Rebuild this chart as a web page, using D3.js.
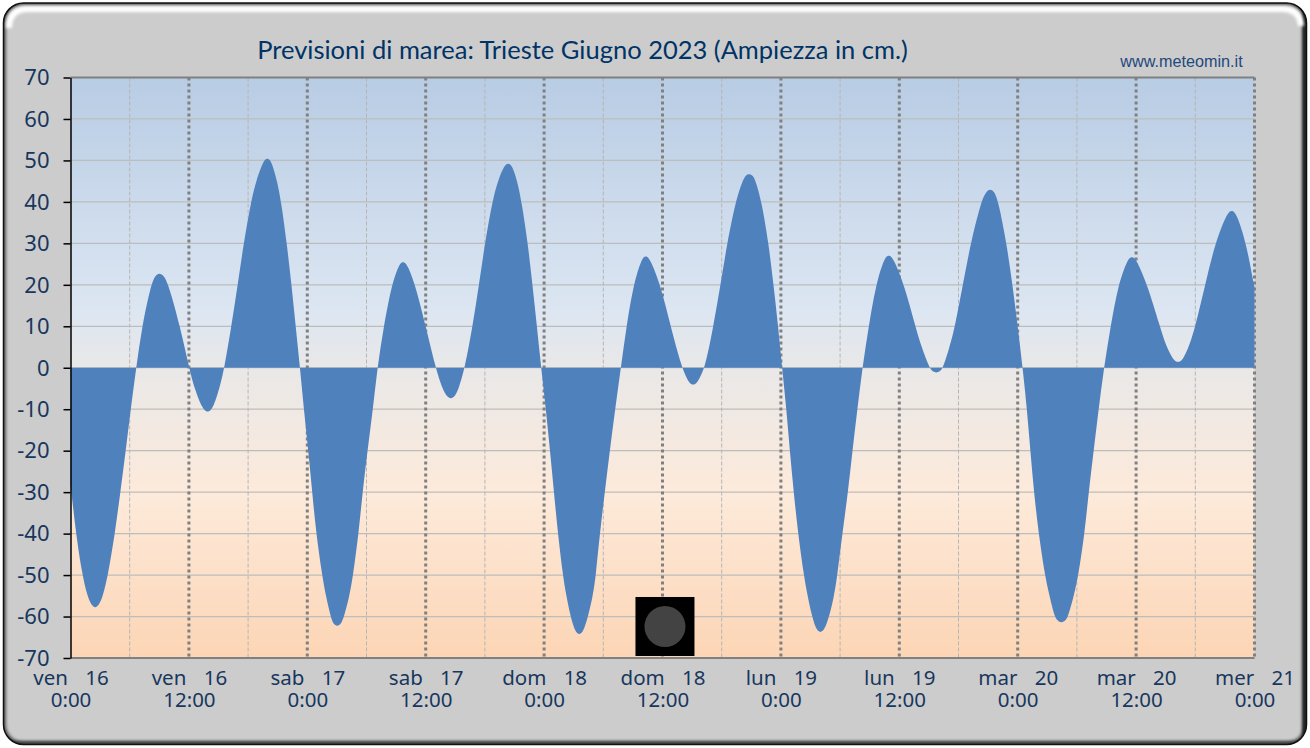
<!DOCTYPE html>
<html>
<head>
<meta charset="utf-8">
<title>Previsioni di marea</title>
<script src="https://cdn.jsdelivr.net/npm/d3@7"></script>
<style>
  html, body { margin: 0; padding: 0; background: #fff; }
  svg { display: block; }
  .tick text { fill: #17375e; font-family: "Noto Sans", sans-serif; }
</style>
</head>
<body>
<div id="chart"></div>
<script>
// Punti: ora dall'inizio (ven 16, 0:00) e livello in cm
const hours = [
  0, 0.55, 1.2, 1.7, 2.1, 2.5, 2.9, 3.3, 3.8, 4.5, 5.05, 5.6, 6.1, 6.66, 7.25, 8.15, 8.6, 9, 9.45, 9.95, 11.1, 12.02,
  12.56, 13.4, 13.9, 14.4, 15.1, 15.6, 16.3, 16.95, 17.55, 18.3, 18.8, 19.55, 19.95, 20.35, 20.95, 21.35, 21.92, 22.4, 22.82, 23.26,
  23.65, 24.1, 24.5, 24.9, 25.5, 25.88, 26.36, 26.63, 27.03, 27.43, 27.73, 28.28, 28.64, 29.2, 29.6, 30.1, 30.65, 31.1,
  31.75, 32.55, 33.3, 33.7, 34.1, 34.95, 36, 37, 37.68, 38.15, 38.55, 38.95, 39.35, 39.97,
  40.75, 41.4, 42, 42.75, 43.3, 43.96, 44.36, 44.76, 45.28, 45.72, 46.35, 46.82, 47.27, 47.7,
  48.18, 48.6, 49, 49.4, 49.9, 50.25, 50.68, 51.16, 51.56, 51.96, 52.45, 52.95, 53.25, 53.65, 54.15, 54.66, 55.2, 55.78,
  56.35, 57.05, 57.9, 58.3, 58.7, 59.8, 60.82, 61.95, 62.7, 63.1, 63.5, 64.33,
  65.15, 65.88, 66.55, 67.4, 68.1, 68.45, 68.8, 69.15, 69.45, 70.05, 70.75, 71.25, 71.72, 72.12,
  72.56, 72.9, 73.3, 73.74, 74.32, 74.7, 75.15, 75.6, 76, 76.4, 76.9, 77.4, 77.72, 78.23, 78.8, 79.25, 79.75, 80.26,
  80.9, 81.62, 82.5, 82.93, 83.35, 84.5, 85.62, 86.25, 87.05, 87.4, 87.76, 88.1, 88.43,
  89.1, 89.65, 90.44, 91.23, 92.28, 92.83, 93.23, 93.63, 94.05, 94.87, 95.47, 96, 96.5,
  96.94, 97.28, 97.65, 98.12, 98.75, 99.22, 99.72, 100.05, 100.45, 100.85, 101.1, 101.7, 102.15, 102.78, 103.19, 103.7, 104.2, 104.74,
  105.42, 106.18, 107.15, 107.58, 108, 109.15, 110.4, 111.07, 111.8, 112.25, 112.7, 113.35, 114.02, 115, 116, 117.25, 117.7, 118.15, 119.17, 119.9, 120
];
const levels = [
  -28, -40, -50, -55, -57.2, -58, -57.2, -55, -50, -40, -30, -20, -10, 0, 10, 20, 22.3, 22.9, 22.3, 20, 10, 0,
  -5, -10.1, -10.8, -10.1, -5, 0, 10, 20, 30, 40, 45, 50, 50.6, 50, 45, 40, 30, 20, 10, 0,
  -10, -20, -30, -40, -50, -55, -60, -61.8, -62.4, -61.8, -60, -55, -50, -40, -30, -20, -10, 0,
  10, 20, 25, 25.6, 25.1, 20, 10, 0, -5, -7, -7.5, -7, -5, 0,
  10, 20, 30, 40, 45, 48.8, 49.4, 48.8, 45, 40, 30, 20, 10, 0,
  -10, -20, -30, -40, -50, -55, -60, -63.8, -64.4, -63.8, -60, -55, -50, -40, -30, -20, -10, 0,
  10, 20, 26.4, 27, 26.5, 20, 10, 0, -3.8, -4.2, -3.8, 0,
  10, 20, 30, 40, 45, 46.5, 46.8, 46.4, 45, 40, 30, 20, 10, 0,
  -10, -20, -30, -40, -50, -55, -60, -63.3, -63.9, -63.3, -60, -55, -50, -40, -30, -20, -10, 0,
  10, 20, 26.6, 27.2, 26.7, 20, 10, 5, 0, -1, -1.2, -1, 0,
  5, 10, 20, 30, 40, 42.6, 43.1, 42.5, 40, 30, 20, 10, 0,
  -10, -20, -30, -40, -50, -55, -60, -61.1, -61.5, -61, -60, -55, -50, -40, -30, -20, -10, 0,
  10, 20, 26.3, 26.8, 26.3, 20, 10, 5, 1.7, 1.3, 1.7, 5, 10, 20, 30, 37.5, 38, 37.4, 30, 20.4, 19.5
];
const yTicks = [70, 60, 50, 40, 30, 20, 10, 0, -10, -20, -30, -40, -50, -60, -70];
const majorHours = [0, 12, 24, 36, 48, 60, 72, 84, 96, 108, 120];
const minorHours = [6, 18, 30, 42, 54, 66, 78, 90, 102, 114];
const dayLabels = ["ven    16", "ven    16", "sab    17", "sab    17", "dom    18", "dom    18", "lun    19", "lun    19", "mar    20", "mar    20", "mer    21"];
const timeLabels = ["0:00", "12:00", "0:00", "12:00", "0:00", "12:00", "0:00", "12:00", "0:00", "12:00", "0:00"];
const moonHour = [60.25];
const moonLevel = [-62.4];

const width = 1310;
const height = 748;
const marginTop = 77.5;
const marginRight = 55.5;
const marginBottom = 90;
const marginLeft = 70.5;

const tide = hours.map((h, i) => ({ h, v: levels[i] }));

const x = d3.scaleLinear().domain([0, 120]).range([marginLeft, width - marginRight]);
const y = d3.scaleLinear().domain([-70, 70]).range([height - marginBottom, marginTop]);

const svg = d3.select("#chart").append("svg")
  .attr("width", width)
  .attr("height", height)
  .attr("viewBox", [0, 0, width, height]);

const defs = svg.append("defs");

const plotGrad = defs.append("linearGradient")
  .attr("id", "plotGrad").attr("x1", 0).attr("y1", 0).attr("x2", 0).attr("y2", 1);
[["0%", "#b8cce4"], ["40%", "#dce6f2"], ["50%", "#e9e8e8"], ["72%", "#fdeada"], ["100%", "#fcd5b5"]]
  .forEach(s => plotGrad.append("stop").attr("offset", s[0]).attr("stop-color", s[1]));

const blur = defs.append("filter").attr("id", "blur2")
  .attr("filterUnits", "userSpaceOnUse")
  .attr("x", -20).attr("y", -20).attr("width", 1350).attr("height", 790);
blur.append("feGaussianBlur").attr("stdDeviation", 1.8);
defs.append("clipPath").attr("id", "frameClip")
  .append("rect").attr("x", 3.5).attr("y", 3).attr("width", 1303).attr("height", 741.5).attr("rx", 20);

// Cornice con bordo smussato
svg.append("rect")
  .attr("x", 3.5).attr("y", 3).attr("width", 1303).attr("height", 741.5).attr("rx", 20)
  .attr("fill", "#cccccc");
const bevel = svg.append("g").attr("clip-path", "url(#frameClip)");
bevel.append("rect")
  .attr("x", 3.5).attr("y", 3).attr("width", 1303).attr("height", 741.5).attr("rx", 20)
  .attr("fill", "none").attr("stroke", "#555555").attr("stroke-width", 5).attr("filter", "url(#blur2)");
bevel.append("rect")
  .attr("x", 1302).attr("y", 3).attr("width", 10).attr("height", 742)
  .attr("fill", "#222222").attr("filter", "url(#blur2)");
bevel.append("rect")
  .attr("x", 3).attr("y", 741).attr("width", 1304).attr("height", 8)
  .attr("fill", "#444444").attr("filter", "url(#blur2)");
bevel.append("path")
  .attr("d", "M9,28 Q9,9 28,9 H1282 Q1300,9 1301,26")
  .attr("fill", "none").attr("stroke", "#ffffff").attr("stroke-width", 6).attr("filter", "url(#blur2)");
svg.append("rect")
  .attr("x", 3.5).attr("y", 3).attr("width", 1303).attr("height", 741.5).attr("rx", 20)
  .attr("fill", "none").attr("stroke", "#111").attr("stroke-width", 1.5);

// Sfondo dell'area del grafico
svg.append("rect")
  .attr("x", x(0)).attr("y", y(70))
  .attr("width", x(120) - x(0)).attr("height", y(-70) - y(70))
  .attr("fill", "url(#plotGrad)");

// Griglia orizzontale
svg.append("g").selectAll("line")
  .data(yTicks.slice(1, -1))
  .join("line")
  .attr("x1", x(0)).attr("x2", x(120))
  .attr("y1", d => y(d)).attr("y2", d => y(d))
  .attr("stroke", "#bdbdbd").attr("stroke-width", 1.2);

// Griglia verticale: ogni 6 ore tratteggiata, ogni 12 ore a puntini
svg.append("g").selectAll("line")
  .data(minorHours)
  .join("line")
  .attr("x1", d => x(d)).attr("x2", d => x(d))
  .attr("y1", y(70)).attr("y2", y(-70))
  .attr("stroke", "#b5b5b5").attr("stroke-width", 1).attr("stroke-dasharray", "4,2");
svg.append("g").selectAll("line")
  .data(majorHours.slice(1))
  .join("line")
  .attr("x1", d => x(d)).attr("x2", d => x(d))
  .attr("y1", y(70)).attr("y2", y(-70))
  .attr("stroke", "#808080").attr("stroke-width", 3).attr("stroke-dasharray", "3,3");

// Area della marea
const area = d3.area()
  .x(d => x(d.h))
  .y0(y(0))
  .y1(d => y(d.v))
  .curve(d3.curveBasis);
svg.append("path").datum(tide).attr("d", area).attr("fill", "#4f81bd");

// Bordo sopra e sotto
svg.append("g").selectAll("line")
  .data([70, -70])
  .join("line")
  .attr("x1", x(0)).attr("x2", x(120))
  .attr("y1", d => y(d)).attr("y2", d => y(d))
  .attr("stroke", "#808080").attr("stroke-width", 2);

// Fase lunare
const moon = svg.append("g")
  .attr("transform", `translate(${x(moonHour[0])},${y(moonLevel[0])})`);
moon.append("rect").attr("x", -29.5).attr("y", -29.5).attr("width", 59).attr("height", 59).attr("fill", "#000");
moon.append("circle").attr("r", 20.5).attr("fill", "#434343");

// Asse Y
svg.append("g")
  .attr("transform", `translate(${marginLeft},0)`)
  .call(d3.axisLeft(y).tickValues(yTicks).tickSize(7).tickPadding(12).tickSizeOuter(0).tickFormat(d => String(d)))
  .call(g => g.select(".domain").attr("stroke", "#000").attr("stroke-width", 1.5))
  .call(g => g.selectAll(".tick line").attr("stroke", "#000").attr("stroke-width", 1.5))
  .call(g => g.selectAll("text").attr("font-size", 22).attr("dy", "0.33em").attr("x", -21));

// Asse X a due righe
svg.append("g")
  .attr("transform", `translate(0,${height - marginBottom})`)
  .call(d3.axisBottom(x).tickValues(majorHours).tickSize(0).tickFormat(""))
  .call(g => g.select(".domain").remove())
  .call(g => g.selectAll(".tick text").each(function(d, i) {
    const t = d3.select(this)
      .attr("y", 0).attr("dy", 0)
      .attr("font-size", 20.5)
      .attr("text-anchor", "middle");
    t.append("tspan").attr("x", 0).attr("y", 27)
      .style("white-space", "pre").style("word-spacing", "-1px").text(dayLabels[i]);
    t.append("tspan").attr("x", 0).attr("y", 49).text(timeLabels[i]);
  }));

// Titolo e sito
svg.append("text")
  .attr("x", 582.5).attr("y", 59)
  .attr("text-anchor", "middle")
  .attr("font-family", "Lato, sans-serif")
  .attr("font-size", 25.5)
  .attr("fill", "#003366")
  .text("Previsioni di marea: Trieste Giugno 2023 (Ampiezza in cm.)");
svg.append("text")
  .attr("x", 1181.5).attr("y", 67)
  .attr("text-anchor", "middle")
  .attr("font-family", "'Liberation Sans', sans-serif")
  .attr("font-size", 16.2)
  .attr("fill", "#1f497d")
  .text("www.meteomin.it");
</script>
</body>
</html>
